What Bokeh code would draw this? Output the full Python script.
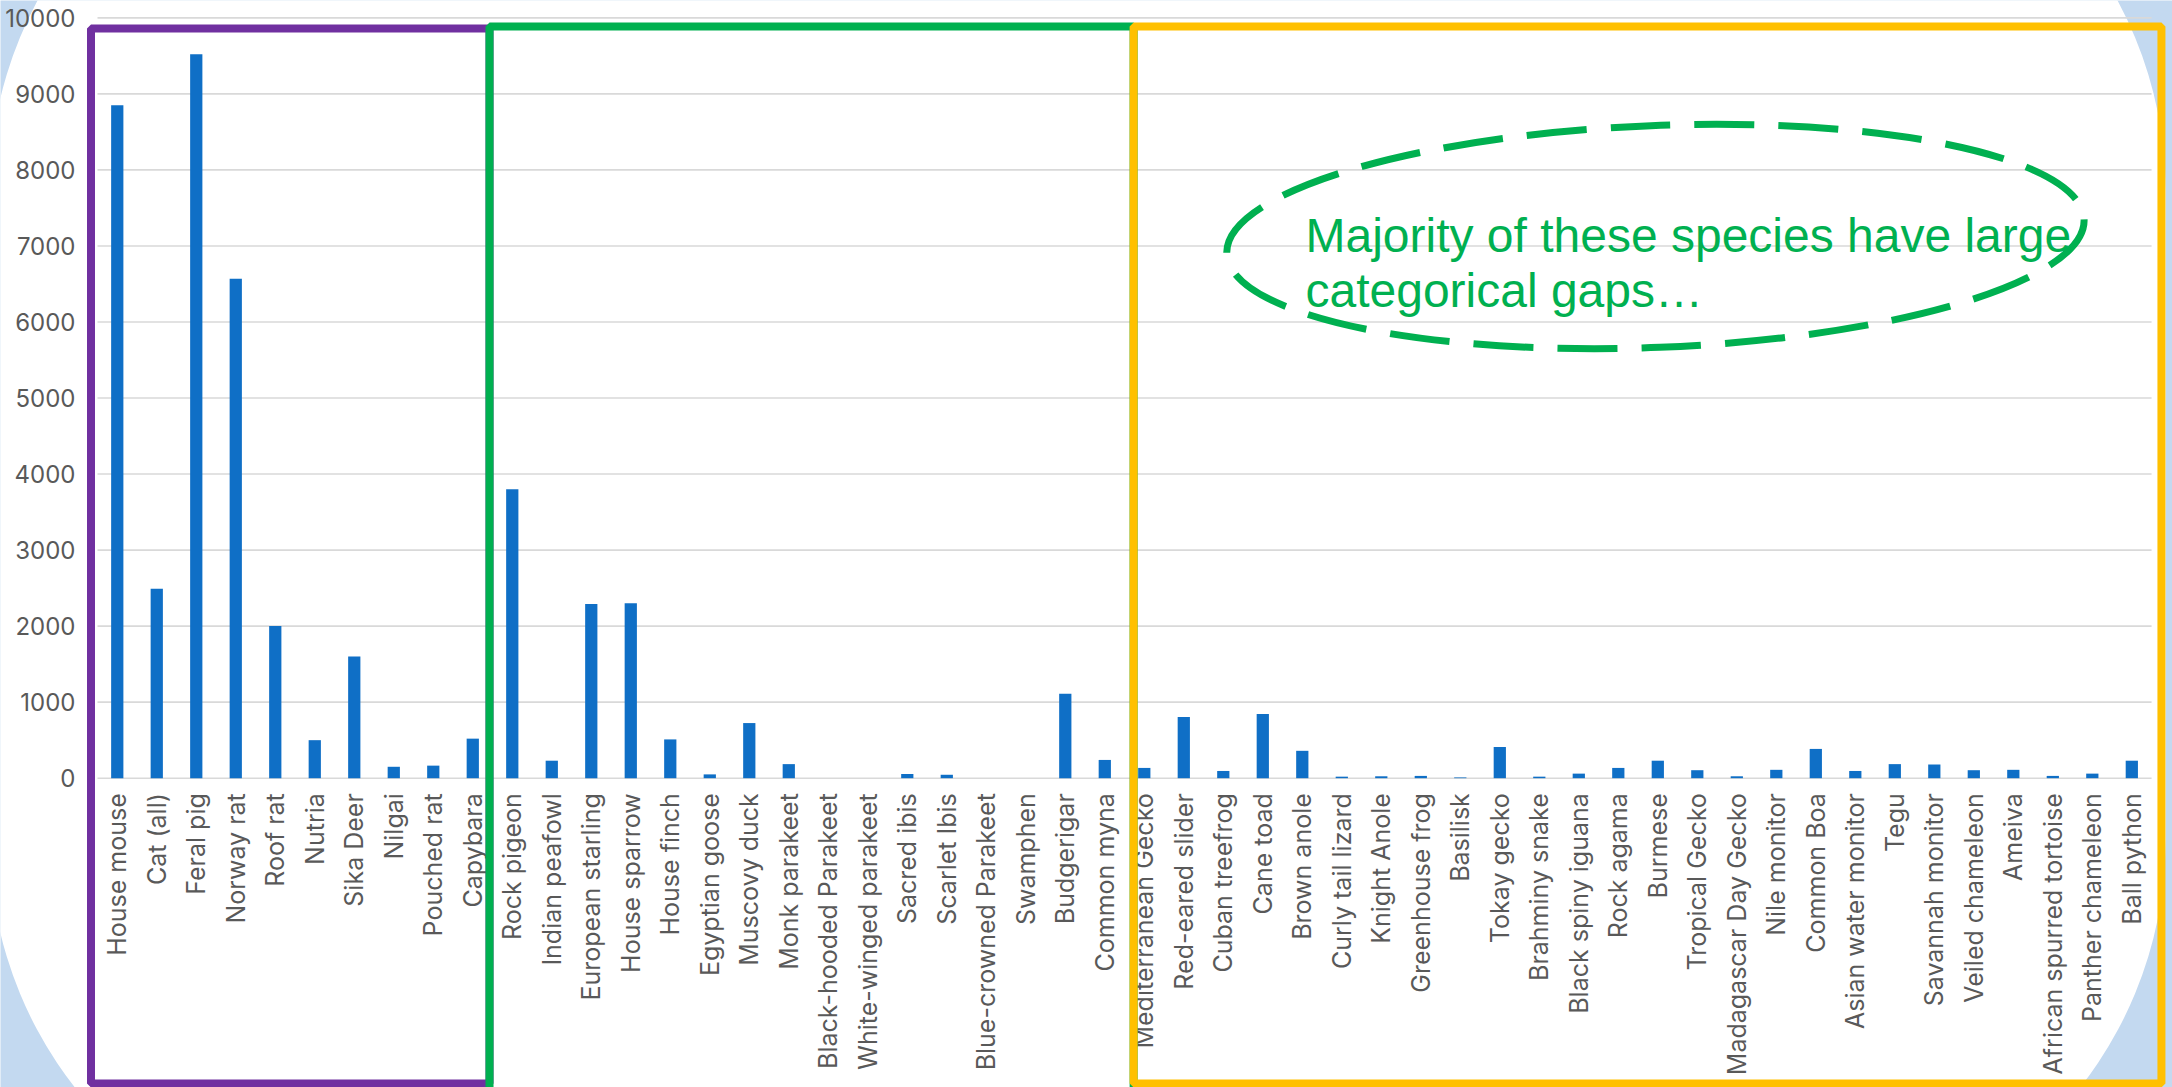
import math
from bokeh.plotting import figure
from bokeh.models import Range1d, FixedTicker, BoxAnnotation, Label
from bokeh.embed import file_html
from bokeh.resources import INLINE

# ---------------- data ----------------
mammals = ["House mouse", "Cat (all)", "Feral pig", "Norway rat", "Roof rat",
           "Nutria", "Sika Deer", "Nilgai", "Pouched rat", "Capybara"]
mammal_counts = [8850, 2490, 9520, 6570, 2000, 500, 1600, 150, 165, 520]

birds = ["Rock pigeon", "Indian peafowl", "European starling", "House sparrow",
         "House finch", "Egyptian goose", "Muscovy duck", "Monk parakeet",
         "Black-hooded Parakeet", "White-winged parakeet", "Sacred ibis",
         "Scarlet Ibis", "Blue-crowned Parakeet", "Swamphen", "Budgerigar",
         "Common myna"]
bird_counts = [3800, 230, 2290, 2300, 510, 50, 725, 185, 0, 0, 55, 45, 0, 0,
               1110, 240]

herps = ["Mediterranean Gecko", "Red-eared slider", "Cuban treefrog", "Cane toad",
         "Brown anole", "Curly tail lizard", "Knight Anole", "Greenhouse frog",
         "Basilisk", "Tokay gecko", "Brahminy snake", "Black spiny iguana",
         "Rock agama", "Burmese", "Tropical Gecko", "Madagascar Day Gecko",
         "Nile monitor", "Common Boa", "Asian water monitor", "Tegu",
         "Savannah monitor", "Veiled chameleon", "Ameiva",
         "African spurred tortoise", "Panther chameleon", "Ball python"]
herp_counts = [135, 805, 95, 845, 360, 20, 25, 30, 10, 410, 20, 60, 135, 230,
               105, 25, 110, 385, 95, 185, 180, 105, 110, 30, 60, 230]

y_ticks = [0, 1000, 2000, 3000, 4000, 5000, 6000, 7000, 8000, 9000, 10000]

note_lines = ["Majority of these species have large", "categorical gaps\u2026"]

species = mammals + birds + herps
counts = mammal_counts + bird_counts + herp_counts
n = len(species)
# category slot positions on the x scale (slot i is centred at i + 0.5)
x_pos = [i + 0.5 for i in range(n)]

# ---------------- figure ----------------
W, H = 2172, 1087
p = figure(width=W, height=H,
           x_range=Range1d(-2.456, 52.53),
           y_range=Range1d(-4068, 10228),
           output_backend="svg", toolbar_location=None,
           min_border_left=0, min_border_right=0,
           min_border_top=0, min_border_bottom=0)

p.border_fill_color = "#C3D9F0"
p.background_fill_color = "#C3D9F0"
p.outline_line_color = None

# white rounded slide area behind everything
bg = BoxAnnotation(left=-2.734, right=52.354, top=12989, bottom=-6080,
                   fill_color="white", fill_alpha=1.0, line_color=None,
                   border_radius=400, level="image")
p.add_layout(bg)

# horizontal gridlines over the category span
p.segment(x0=0, x1=n, y0=y_ticks, y1=y_ticks, line_color="#D9D9D9",
          line_width=1.6)

p.vbar(x=x_pos, top=counts, width=0.31, fill_color="#0F6FC6", line_color=None)

# axes styling
p.xgrid.grid_line_color = None
p.ygrid.grid_line_color = None

p.yaxis.ticker = FixedTicker(ticks=y_ticks)
p.xaxis.ticker = FixedTicker(ticks=x_pos)
p.xaxis.major_label_overrides = {x: name for x, name in zip(x_pos, species)}
p.xaxis.fixed_location = 0
p.yaxis.fixed_location = 0

for ax in (p.xaxis[0], p.yaxis[0]):
    ax.axis_line_color = None
    ax.major_tick_line_color = None
    ax.minor_tick_line_color = None
    ax.major_tick_out = 0
    ax.major_tick_in = 0
    ax.major_label_text_color = "#595959"
    ax.major_label_text_font = "Inter"

p.yaxis.major_label_text_font_size = "24px"
p.xaxis.major_label_text_font_size = "25px"
p.yaxis.major_label_standoff = 22
p.xaxis.major_label_orientation = math.pi / 2
p.xaxis.major_label_standoff = 15

# group boxes
n_m, n_b, n_h = len(mammals), len(birds), len(herps)
purple = BoxAnnotation(left=-0.165, right=n_m - 0.076, top=9859, bottom=-4015,
                       fill_color=None, line_color="#7030A0", line_alpha=1.0,
                       line_width=8, level="overlay")
green = BoxAnnotation(left=n_m - 0.076, right=n_m + n_b + 0.23, top=9886,
                      bottom=-6000, fill_color=None, line_color="#00B050",
                      line_alpha=1.0, line_width=8, level="overlay")
yellow = BoxAnnotation(left=n_m + n_b + 0.23, right=n_m + n_b + n_h + 0.25,
                       top=9886, bottom=-4015, fill_color=None,
                       line_color="#FFC000", line_alpha=1.0, line_width=8,
                       level="overlay")
for b in (purple, green, yellow):
    p.add_layout(b)

# dashed annotation ellipse and text
p.ellipse(x=[39.44], y=[7124], width=[858], height=[222],
          width_units="screen", height_units="screen", angle=0.04,
          fill_color=None, line_color="#00B050", line_width=7,
          line_dash="60 24")

for i, txt in enumerate(note_lines):
    p.add_layout(Label(x=30.58, y=7137 - i * 723, text=txt,
                       text_font="Liberation Sans", text_font_size="48px",
                       text_color="#00B050", text_baseline="alphabetic",
                       text_align="left"))

open("out.html", "w").write(file_html(p, INLINE))
